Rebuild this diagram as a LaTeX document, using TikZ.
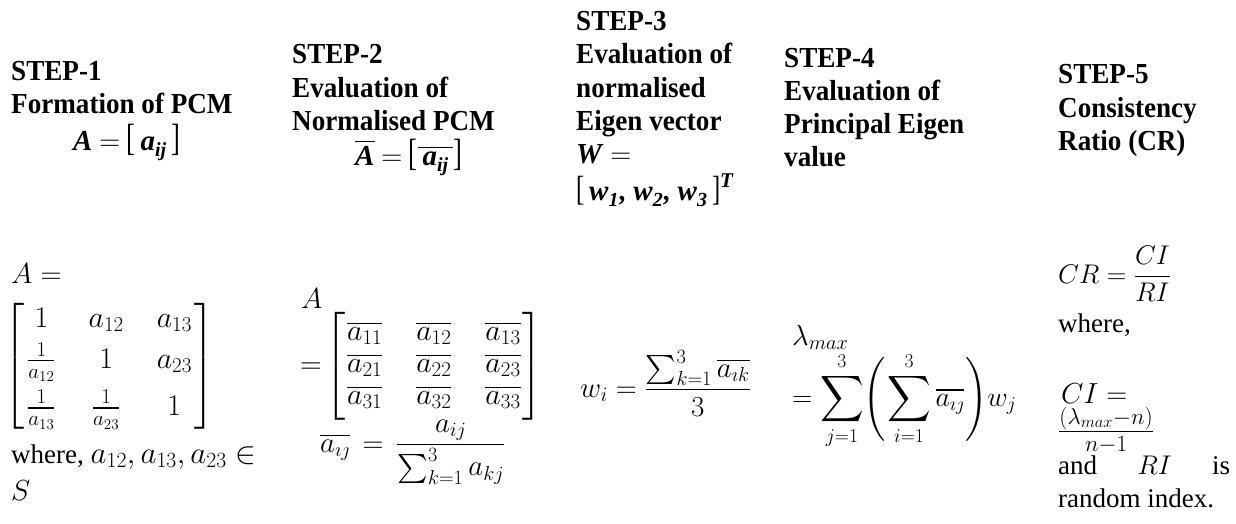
\RequirePackage{fix-cm}
\documentclass[tikz,border=0pt]{standalone}
\usepackage{amsmath,amssymb,graphicx}
\usepackage[no-math]{fontspec}
\setmainfont{Liberation Serif}[BoldFeatures={FakeStretch=0.935}]
\newcommand{\bi}[1]{\textbf{\textit{#1}}}
\newcommand{\bsub}[1]{\raisebox{-6pt}{\fontsize{20}{20}\selectfont\bi{#1}}}
\newcommand{\hlb}[1][38]{\scalebox{0.7}[1.0]{\fontsize{#1}{#1}\selectfont\mdseries[}}
\newcommand{\hrb}[1][38]{\scalebox{0.7}[1.0]{\fontsize{#1}{#1}\selectfont\mdseries]}}
\newcommand{\bigsum}{\mathop{\vcenter{\hbox{\scalebox{1.08}[1.15]{$\displaystyle\sum$}}}}\limits}
\newcommand{\fixparen}[1]{\left#1\vrule height 33pt depth 33pt width 0pt\right.}
\newcommand{\fixparenr}[1]{\left.\vrule height 33pt depth 33pt width 0pt\right#1}
\begin{document}
\begin{tikzpicture}[x=1pt,y=-1pt,
  hd/.style={anchor=base west, inner sep=0pt, font=\fontsize{29}{33}\selectfont\bfseries},
  tx/.style={anchor=base west, inner sep=0pt, font=\fontsize{27}{33}\selectfont},
  mx/.style={anchor=base west, inner sep=0pt, font=\fontsize{29}{33}\selectfont},
  mc/.style={anchor=west, inner sep=0pt, font=\fontsize{30}{33}\selectfont}]
\useasboundingbox (0,0) rectangle (1236,523);
% STEP-1
\node[hd] (s1a) at (11,80) {STEP-1};
\node[hd] (s1b) at (11,113) {Formation of PCM};
\node[hd] (s1c) at (73,150) {\bi{A} $=$ \hlb\,\bi{a}\bsub{ij}\,\hrb};
% STEP-2
\node[hd] (s2a) at (292,63) {STEP-2};
\node[hd] (s2b) at (292,97) {Evaluation of};
\node[hd] (s2c) at (292,130) {Normalised PCM};
\node[hd] (s2d) at (355,165) {$\overline{\mbox{\bi{A}}}$ $=$ \hlb$\overline{\mbox{\,\bi{a}\bsub{ij}\,}}$\hrb};
% STEP-3
\node[hd] (s3a) at (576,30) {STEP-3};
\node[hd] (s3b) at (576,63) {Evaluation of};
\node[hd] (s3c) at (576,97) {normalised};
\node[hd] (s3d) at (576,130) {Eigen vector};
\node[hd] (s3e) at (576,163) {\bi{W} $=$};
\node[hd] (s3f) at (576,200) {\hlb[35]\,\bi{w}\bsub{1},\;\bi{w}\bsub{2},\;\bi{w}\bsub{3}\,\hrb[35]\raisebox{13pt}{\fontsize{21}{21}\selectfont\bi{T}}};
% STEP-4
\node[hd] (s4a) at (784,67) {STEP-4};
\node[hd] (s4b) at (784,100) {Evaluation of};
\node[hd] (s4c) at (784,133) {Principal Eigen};
\node[hd] (s4d) at (784,166) {value};
% STEP-5
\node[hd] (s5a) at (1058,83) {STEP-5};
\node[hd] (s5b) at (1058,117) {Consistency};
\node[hd] (s5c) at (1058,150) {Ratio (CR)};
% column 1 body
\node[mx] (c1a) at (11,283) {$A=$};
\node[mc] (c1m) at (4,366.5) {$\left[\begin{array}{@{\hspace{3pt}}c@{\hspace{33pt}}c@{\hspace{33pt}}c@{\hspace{3pt}}} 1 & a_{12} & a_{13}\\[6pt] \tfrac{1}{a_{12}} & 1 & a_{23}\\[12pt] \tfrac{1}{a_{13}} & \tfrac{1}{a_{23}} & 1\end{array}\right]$};
\node[tx] (c1w) at (11,463) {where, {\fontsize{31}{33}\selectfont$a_{12},a_{13},a_{23}\in$}};
\node[mx] (c1s) at (11,500) {$S$};
% column 2 body
\node[mx] (c2a) at (301,308) {$A$};
\node[mc] (c2m) at (300,366) {$=\!\left[\renewcommand{\arraystretch}{0.97}\begin{array}{@{\hspace{2pt}}c@{\hspace{34pt}}c@{\hspace{34pt}}c@{\hspace{2pt}}} \overline{a_{11}} & \overline{a_{12}} & \overline{a_{13}}\\ \overline{a_{21}} & \overline{a_{22}} & \overline{a_{23}}\\ \overline{a_{31}} & \overline{a_{32}} & \overline{a_{33}}\end{array}\right]$};
\node[mx] (c2f) at (320,452) {$\overline{a_{\imath\jmath}}\,=\,\dfrac{a_{ij}}{\sum_{k=1}^{3}a_{kj}}$};
% column 3 body
\node[mx] (c3f) at (580,397) {$w_i=\dfrac{\sum_{k=1}^{3}\overline{a_{\imath k}}}{3}$};
% column 4 body
\node[mx] (c4a) at (792,345) {$\lambda_{max}$};
\node[anchor=base west, inner sep=0pt, font=\fontsize{28}{33}\selectfont] (c4f) at (792,406) {$=\bigsum_{j=1}^{3}\!\fixparen(\!\bigsum_{i=1}^{3}\overline{a_{\imath\jmath}}\!\fixparenr)\!w_j$};
% column 5 body
\node[anchor=base west, inner sep=0pt, font=\fontsize{27}{33}\selectfont] (c5a) at (1058,283) {$CR=\dfrac{CI}{RI}$};
\node[tx] (c5w) at (1058,332) {where,};
\node[mx] (c5b) at (1061,403) {$CI=$};
\node[anchor=base west, inner sep=0pt, font=\fontsize{33}{33}\selectfont] (c5c) at (1058,440) {$\tfrac{(\lambda_{max}-n)}{n-1}$};
\node[tx] (c5d) at (1058,474) {\makebox[172pt][l]{and\hfill$RI$\hfill is}};
\node[tx] (c5e) at (1058,507) {random index.};
\end{tikzpicture}
\end{document}
